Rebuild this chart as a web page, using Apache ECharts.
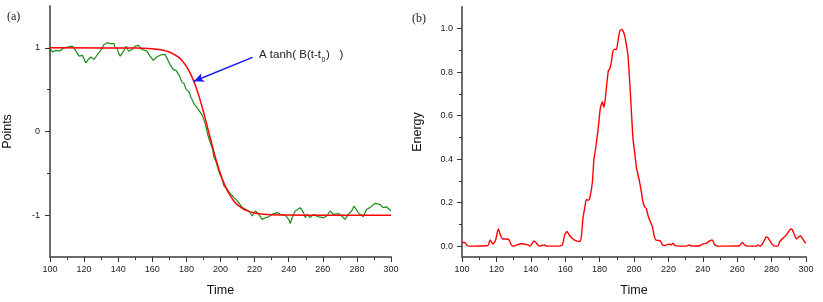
<!DOCTYPE html>
<html>
<head>
<meta charset="utf-8">
<script src="https://cdn.jsdelivr.net/npm/echarts@6/dist/echarts.min.js"></script>
<style>
html,body{margin:0;padding:0;background:#fff;}
#c{width:823px;height:302px;}
</style>
</head>
<body>
<div id="c"></div>
<script>
// ---- data ----
const greenTime = [100,100.6,101.5,103.5,105.5,107.4,110.3,113.2,115.2,117.1,119,121,122.4,124,125.9,127.8,129.8,131.7,133.6,135.5,137.5,138.3,139.5,140.2,141.2,143.2,144.7,146.1,148,150,151.9,153.9,156.8,158.7,160.6,162.6,165.5,167.5,168.5,170.4,172.3,173.9,175.8,177.4,178.7,179.7,181.6,182.6,183.6,184.5,185.5,187.5,188.5,189.4,190.4,191.4,192.4,193.3,194.3,195.3,196.2,197.2,198.2,199.1,200.1,201.1,202,204,206,207.9,209.9,210.8,212.8,214.7,216.6,218.6,220.5,222.4,224.4,226.4,228.3,230.3,233.2,235.1,238,240,240.9,241.9,243.8,246.8,248.7,249.7,250.7,252.6,254.5,257.4,260.4,262.3,264.3,266.2,269.1,271.1,273,275,276.9,278.3,280.8,283.7,285.7,287.6,290.5,293.4,295.3,297.3,300];
const greenPoints = [0.95,0.98,0.95,0.97,0.96,0.99,1.01,1.02,0.96,0.90,0.91,0.82,0.86,0.89,0.86,0.92,0.97,1.04,1.06,1.05,1.05,1.0,0.99,0.94,0.90,0.96,1.02,0.96,0.98,1.02,1.03,0.98,0.96,0.90,0.85,0.89,0.92,0.92,0.88,0.80,0.74,0.73,0.67,0.59,0.57,0.51,0.47,0.41,0.37,0.33,0.31,0.25,0.26,0.19,0.13,0.07,-0.03,-0.09,-0.15,-0.21,-0.31,-0.35,-0.42,-0.48,-0.53,-0.58,-0.65,-0.69,-0.75,-0.79,-0.83,-0.85,-0.91,-0.93,-0.95,-1.01,-0.95,-0.99,-1.05,-1.03,-1.02,-0.99,-0.97,-0.99,-1.0,-1.05,-1.1,-1.04,-0.95,-0.91,-0.97,-1.03,-0.99,-1.03,-0.99,-1.02,-1.03,-1.01,-0.95,-0.99,-0.98,-1.01,-1.05,-0.99,-0.95,-0.89,-0.97,-1.02,-0.93,-0.91,-0.86,-0.87,-0.91,-0.90,-0.95];

const fitTime = [100,150,160,165,170,175,177.5,180,182.5,185,187.5,190,192.5,195,197.5,200,202.5,205,207.5,210,215,220,225,230,240,260,300];
const fitPoints = [1.0,0.998,0.990,0.977,0.951,0.894,0.845,0.778,0.686,0.565,0.414,0.235,0.040,-0.159,-0.345,-0.508,-0.641,-0.744,-0.821,-0.876,-0.943,-0.974,-0.988,-0.995,-0.999,-1.0,-1.0];

const energyTime = [100,101.6,102.9,104.5,115.1,116.3,118,119.6,121.1,122.5,123.8,125.8,127.3,128.7,130,132,134.5,138.4,139.7,141.9,143.2,144.8,148.1,149,154.8,158.3,159.7,161,162.6,164.5,166.5,168.4,169.4,170.3,171.3,172.3,173.3,174.2,175.8,176.7,177.7,179.1,180.4,181.6,182.4,183.1,183.9,185.1,185.9,186.8,187.8,188.8,189.7,190.7,191.7,192.6,193.6,194.6,195.5,196.5,197.5,198.4,199.4,200.4,201.4,202.9,204.3,205.2,206.2,207.2,208.1,209.5,210.7,211.6,212.6,214,215.3,216.5,217.8,220.3,221.7,222.7,223.6,226.6,230.4,232.4,233.3,238.2,239.7,242.1,244,245.5,246.9,248.8,261.4,263,264.3,266.3,271.1,272.1,273.1,275,276.9,277.9,279.8,281.8,283.7,284.7,286.6,288.6,290.5,291.5,292.4,294.4,295.3,296.7,297.9,299.3,300];
const energyValues = [0.017,0.017,0.003,0,0.003,0.029,0.009,0.029,0.079,0.048,0.033,0.033,0.029,0.006,0,0.006,0.011,0.006,0,0.024,0.014,0,0.006,0,0,0.006,0.052,0.067,0.048,0.033,0.024,0.021,0.044,0.127,0.173,0.215,0.211,0.218,0.294,0.4,0.45,0.535,0.633,0.664,0.64,0.664,0.724,0.808,0.815,0.845,0.898,0.906,0.903,0.944,0.989,0.997,0.99,0.967,0.929,0.876,0.755,0.633,0.497,0.43,0.362,0.309,0.248,0.203,0.18,0.173,0.142,0.112,0.089,0.052,0.029,0.026,0.024,0.006,0.003,0.009,0.006,0.014,0.003,0,0,0.006,0,0.002,0.009,0.014,0.024,0.029,0.006,0,0.002,0.017,0.006,0,0,0.006,0,0.014,0.042,0.039,0.014,0,0,0.021,0.036,0.052,0.074,0.079,0.07,0.033,0.039,0.048,0.036,0.018,0.015];

const leftYTicks = [-1, 0, 1];
const leftYMinor = [-0.5, 0.5];
const rightYTicks = [0, 0.2, 0.4, 0.6, 0.8, 1.0];
const rightYMinor = [0.1, 0.3, 0.5, 0.7, 0.9];
const annotationText = ['A tanh( B(t-t', '0', ')   )'];
const arrowFrom = [218.8, 0.886];
const arrowTo = [184.4, 0.6];

// ---- chart ----
const FONT = 'Liberation Sans';
const zip = (a, b) => a.map((v, i) => [v, b[i]]);
const axisLine = {show: true, onZero: false, lineStyle: {color: '#6b6b6b', width: 2}};
const tickStyle = {color: '#333', width: 1};

function xAxisCfg(grid) {
  return {
    type: 'value', gridIndex: grid, min: 100, max: 300, interval: 20,
    name: 'Time', nameLocation: 'middle', nameGap: 27,
    nameTextStyle: {fontFamily: FONT, fontSize: 12.5, color: '#111'},
    axisLine: axisLine,
    axisTick: {show: true, length: 5, lineStyle: tickStyle},
    minorTick: {show: true, splitNumber: 2, length: 3, lineStyle: tickStyle},
    axisLabel: {fontFamily: FONT, fontSize: 9, color: '#222', margin: 8},
    splitLine: {show: false}, minorSplitLine: {show: false}
  };
}

const chart = echarts.init(document.getElementById('c'), null, {renderer: 'canvas'});
chart.setOption({
  animation: false,
  backgroundColor: '#fff',
  grid: [
    {left: 48, top: 6, width: 343, height: 251},
    {left: 462, top: 7, width: 344, height: 251}
  ],
  xAxis: [xAxisCfg(0), xAxisCfg(1)],
  yAxis: [
    {
      type: 'value', gridIndex: 0, min: -1.5, max: 1.5, interval: 0.5,
      name: 'Points', nameLocation: 'middle', nameGap: 36,
      nameTextStyle: {fontFamily: FONT, fontSize: 12.5, color: '#111'},
      axisLine: axisLine,
      axisTick: {show: true, length: 5, lineStyle: tickStyle, customValues: leftYTicks},
      axisLabel: {fontFamily: FONT, fontSize: 9, color: '#222', margin: 10, customValues: leftYTicks},
      splitLine: {show: false}
    },
    {
      type: 'value', gridIndex: 0, position: 'left', min: -1.5, max: 1.5, interval: 0.5,
      axisLine: {show: false, onZero: false},
      axisTick: {show: true, length: 3, lineStyle: tickStyle, customValues: leftYMinor},
      axisLabel: {show: false},
      splitLine: {show: false}
    },
    {
      type: 'value', gridIndex: 1, min: -0.05, max: 1.1,
      name: 'Energy', nameLocation: 'middle', nameGap: 38,
      nameTextStyle: {fontFamily: FONT, fontSize: 12.5, color: '#111'},
      axisLine: axisLine,
      axisTick: {show: true, length: 5, lineStyle: tickStyle, customValues: rightYTicks},
      axisLabel: {fontFamily: FONT, fontSize: 9, color: '#222', margin: 9, customValues: rightYTicks,
        formatter: v => Number(v).toFixed(1)},
      splitLine: {show: false}
    },
    {
      type: 'value', gridIndex: 1, position: 'left', min: -0.05, max: 1.1,
      axisLine: {show: false, onZero: false},
      axisTick: {show: true, length: 3, lineStyle: tickStyle, customValues: rightYMinor},
      axisLabel: {show: false},
      splitLine: {show: false}
    }
  ],
  series: [
    {
      type: 'line', xAxisIndex: 0, yAxisIndex: 0, data: zip(greenTime, greenPoints),
      showSymbol: false, symbol: 'none', lineStyle: {color: '#1c8c1c', width: 1.2},
      silent: true
    },
    {
      type: 'line', xAxisIndex: 0, yAxisIndex: 0, data: zip(fitTime, fitPoints),
      showSymbol: false, symbol: 'none', smooth: 0.4, lineStyle: {color: '#ff0000', width: 1.5},
      silent: true,
      markLine: {
        silent: true, symbol: ['none', 'arrow'], symbolSize: 9,
        label: {show: false},
        emphasis: {disabled: true},
        lineStyle: {color: '#1a1aff', width: 1.5, type: 'solid'},
        data: [[{coord: arrowFrom, symbol: 'none'}, {coord: arrowTo, symbol: 'arrow', symbolSize: [7, 10]}]]
      }
    },
    {
      type: 'line', xAxisIndex: 1, yAxisIndex: 2, data: zip(energyTime, energyValues),
      showSymbol: false, symbol: 'none', smooth: 0.2, lineStyle: {color: '#ff0000', width: 1.4},
      silent: true
    }
  ],
  graphic: [
    {type: 'text', left: 7, top: 11, style: {text: '(a)', font: '12px "Liberation Serif"', fill: '#222'}},
    {type: 'text', left: 412, top: 13, style: {text: '(b)', font: '12px "Liberation Serif"', fill: '#222'}},
    {type: 'text', x: 259, y: 49, style: {text: annotationText[0], font: '11.5px "Liberation Sans"', fill: '#222', textVerticalAlign: 'top'}},
    {type: 'text', x: 321.5, y: 57, style: {text: annotationText[1], font: '7px "Liberation Sans"', fill: '#222', textVerticalAlign: 'top'}},
    {type: 'text', x: 326, y: 49, style: {text: annotationText[2], font: '11.5px "Liberation Sans"', fill: '#222', textVerticalAlign: 'top'}}
  ]
});
</script>
</body>
</html>
